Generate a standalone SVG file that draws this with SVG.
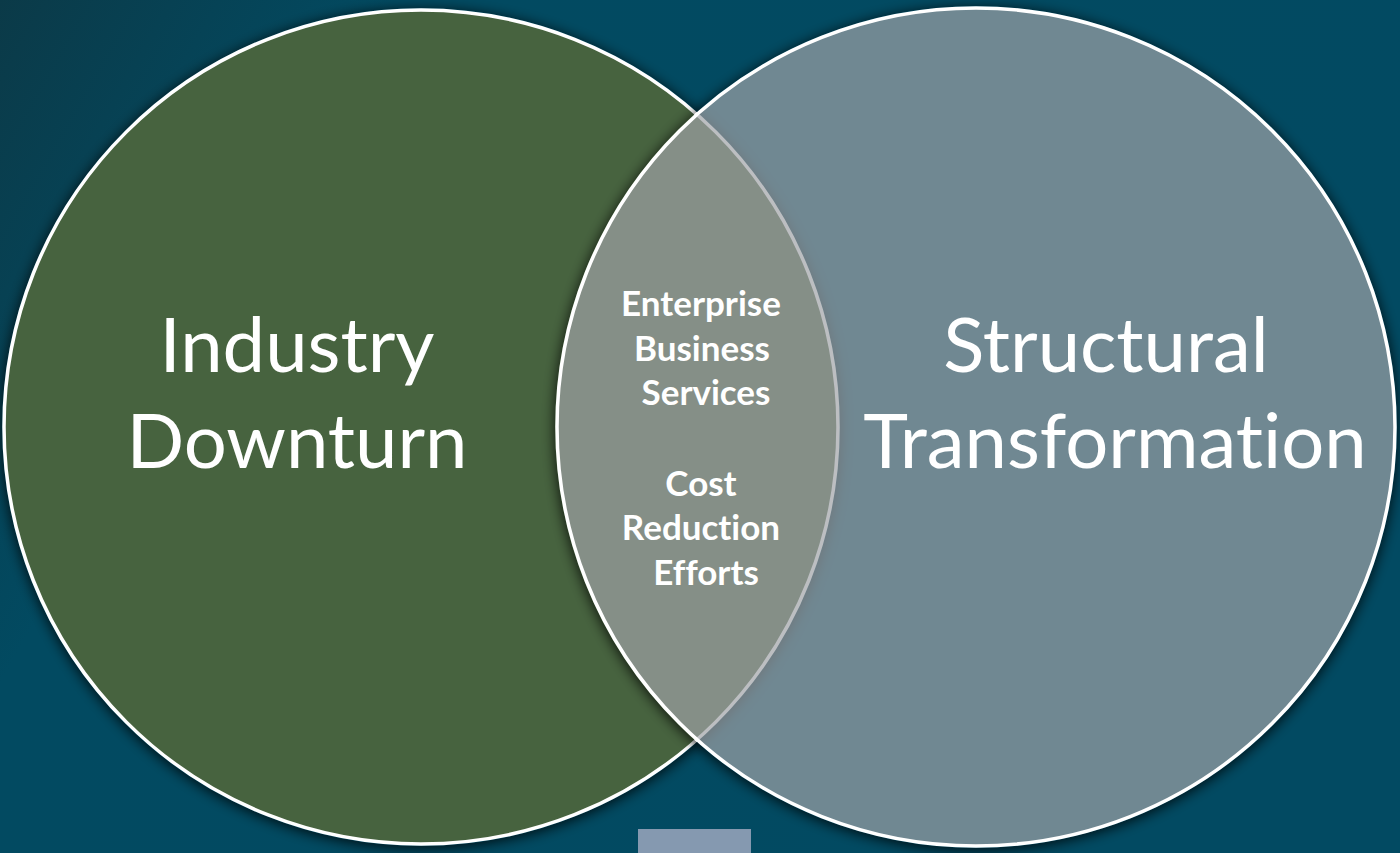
<svg xmlns="http://www.w3.org/2000/svg" width="1400" height="853" viewBox="0 0 1400 853">
  <defs>
    <linearGradient id="bg" x1="0" y1="0" x2="1" y2="0.35">
      <stop offset="0" stop-color="#0b3a48"/>
      <stop offset="0.25" stop-color="#024a61"/>
      <stop offset="1" stop-color="#024a62"/>
    </linearGradient>
    <!-- soft dark halo kept outside the shape that casts it -->
    <filter id="halo" x="-10%" y="-10%" width="120%" height="120%">
      <feGaussianBlur in="SourceAlpha" stdDeviation="7"/>
      <feOffset dx="0" dy="2" result="b"/>
      <feComposite in="b" in2="SourceAlpha" operator="out" result="o"/>
      <feComponentTransfer in="o"><feFuncA type="linear" slope="0.85"/></feComponentTransfer>
    </filter>
    <style>
      .ring { stroke: #ffffff; stroke-width: 3.5; }
      .big { font-family: Lato, "Liberation Sans", sans-serif; font-size: 76px; fill: #ffffff; text-anchor: middle; font-variant-ligatures: none; }
      .mid { font-family: Lato, "Liberation Sans", sans-serif; font-weight: bold; font-size: 35px; fill: #ffffff; text-anchor: middle; font-variant-ligatures: none; }
    </style>
  </defs>

  <rect width="1400" height="853" fill="url(#bg)"/>

  <g id="industry-downturn">
    <circle cx="421" cy="427" r="419" fill="#000000" filter="url(#halo)"/>
    <circle cx="421" cy="427" r="417" fill="#47633f" class="ring"/>
    <text class="big" x="297" y="372">Industry</text>
    <text class="big" x="297" y="468">Downturn</text>
  </g>

  <g id="structural-transformation">
    <circle cx="976" cy="427" r="421" fill="#000000" filter="url(#halo)"/>
    <circle cx="976" cy="427" r="419" fill="#a0a3a7" fill-opacity="0.7" class="ring"/>
    <text class="big" x="1106" y="372">Structural</text>
    <text class="big" x="1115" y="468">Transformation</text>
  </g>

  <g id="overlap">
    <text class="mid" x="701" y="316">Enterprise</text>
    <text class="mid" x="702" y="361">Business</text>
    <text class="mid" x="706" y="405">Services</text>
    <text class="mid" x="701" y="496">Cost</text>
    <text class="mid" x="701" y="540">Reduction</text>
    <text class="mid" x="706" y="585">Efforts</text>
  </g>

  <rect x="638" y="829" width="113" height="24" fill="#8599b0"/>
</svg>
